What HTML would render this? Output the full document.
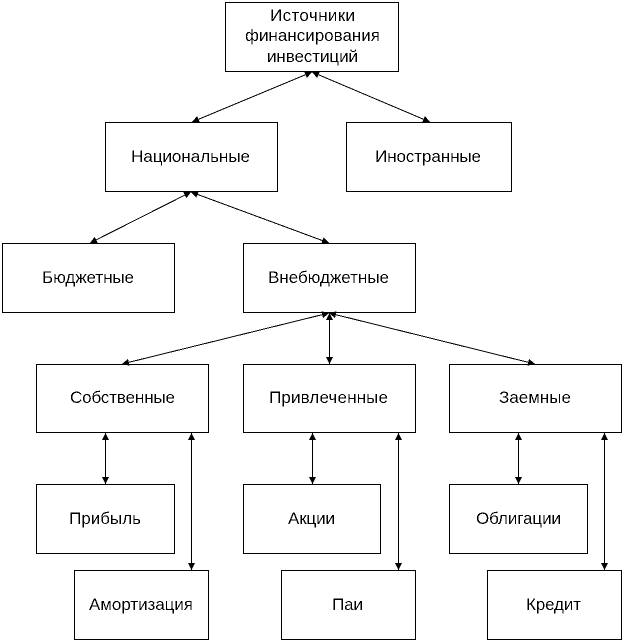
<!DOCTYPE html>
<html lang="ru"><head><meta charset="utf-8"><title>Источники финансирования инвестиций</title>
<style>
html,body{margin:0;padding:0;background:#fff}
svg{display:block}
text{font-family:"Liberation Sans",Arial,sans-serif;font-size:17px;fill:#000;text-anchor:start}
.b{fill:#fff;stroke:#000;stroke-width:1;shape-rendering:crispEdges}
.l{stroke:#000;stroke-width:1;fill:none;shape-rendering:crispEdges}
.v{stroke:#000;stroke-width:1;fill:none;shape-rendering:crispEdges}
</style></head><body>
<svg width="623" height="641" viewBox="0 0 623 641" xmlns="http://www.w3.org/2000/svg">
<defs>
<marker id="a" viewBox="0 0 7 7" refX="7" refY="3.5" markerWidth="7" markerHeight="7" markerUnits="userSpaceOnUse" orient="auto-start-reverse"><path d="M0 0L7 3.5L0 7Z" fill="#000" shape-rendering="crispEdges"/></marker>
<filter id="t" x="0" y="0" width="1" height="1" filterUnits="objectBoundingBox" color-interpolation-filters="sRGB">
<feComponentTransfer><feFuncA type="discrete" tableValues="0 0 0 1 1"/></feComponentTransfer>
</filter>
</defs>
<rect class="b" x="225.5" y="2.5" width="173" height="69"/>
<rect class="b" x="105.5" y="122.5" width="172" height="69"/>
<rect class="b" x="346.5" y="122.5" width="165" height="69"/>
<rect class="b" x="2.5" y="243.5" width="172" height="69"/>
<rect class="b" x="243.5" y="243.5" width="172" height="69"/>
<rect class="b" x="36.5" y="364.5" width="172" height="68"/>
<rect class="b" x="243.5" y="364.5" width="172" height="68"/>
<rect class="b" x="449.5" y="364.5" width="172" height="68"/>
<rect class="b" x="36.5" y="484.5" width="138" height="69"/>
<rect class="b" x="243.5" y="484.5" width="137" height="69"/>
<rect class="b" x="449.5" y="484.5" width="138" height="69"/>
<rect class="b" x="74.5" y="570.5" width="134" height="69"/>
<rect class="b" x="281.5" y="570.5" width="134" height="69"/>
<rect class="b" x="487.5" y="570.5" width="134" height="69"/>
<line class="l" x1="312" y1="72" x2="192" y2="122" marker-start="url(#a)" marker-end="url(#a)"/>
<line class="l" x1="312" y1="72" x2="430" y2="122" marker-start="url(#a)" marker-end="url(#a)"/>
<line class="l" x1="191" y1="192" x2="90" y2="243" marker-start="url(#a)" marker-end="url(#a)"/>
<line class="l" x1="191" y1="192" x2="329" y2="243" marker-start="url(#a)" marker-end="url(#a)"/>
<line class="l" x1="329" y1="313" x2="122" y2="364" marker-start="url(#a)" marker-end="url(#a)"/>
<line class="l" x1="329" y1="313" x2="535" y2="364" marker-start="url(#a)" marker-end="url(#a)"/>
<line class="v" x1="329.5" y1="313" x2="329.5" y2="364" marker-start="url(#a)" marker-end="url(#a)"/>
<line class="v" x1="105.5" y1="433" x2="105.5" y2="484" marker-start="url(#a)" marker-end="url(#a)"/>
<line class="v" x1="191.5" y1="433" x2="191.5" y2="570" marker-start="url(#a)" marker-end="url(#a)"/>
<line class="v" x1="312.5" y1="433" x2="312.5" y2="484" marker-start="url(#a)" marker-end="url(#a)"/>
<line class="v" x1="398.5" y1="433" x2="398.5" y2="570" marker-start="url(#a)" marker-end="url(#a)"/>
<line class="v" x1="518.5" y1="433" x2="518.5" y2="484" marker-start="url(#a)" marker-end="url(#a)"/>
<line class="v" x1="604.5" y1="433" x2="604.5" y2="570" marker-start="url(#a)" marker-end="url(#a)"/>
<g filter="url(#t)">
<text x="270" y="21" textLength="85" lengthAdjust="spacing">Источники</text>
<text x="245" y="41" textLength="135" lengthAdjust="spacing">финансирования</text>
<text x="267" y="62" textLength="91" lengthAdjust="spacing">инвестиций</text>
<text x="131" y="162" textLength="119" lengthAdjust="spacing">Национальные</text>
<text x="375" y="162" textLength="106" lengthAdjust="spacing">Иностранные</text>
<text x="42" y="283" textLength="92" lengthAdjust="spacing">Бюджетные</text>
<text x="268" y="283" textLength="121" lengthAdjust="spacing">Внебюджетные</text>
<text x="70" y="403" textLength="105" lengthAdjust="spacing">Собственные</text>
<text x="269" y="403" textLength="119" lengthAdjust="spacing">Привлеченные</text>
<text x="499" y="403" textLength="72" lengthAdjust="spacing">Заемные</text>
<text x="69" y="524" textLength="72" lengthAdjust="spacing">Прибыль</text>
<text x="288" y="524" textLength="47" lengthAdjust="spacing">Акции</text>
<text x="476" y="524" textLength="85" lengthAdjust="spacing">Облигации</text>
<text x="89" y="610" textLength="104" lengthAdjust="spacing">Амортизация</text>
<text x="332" y="610" textLength="31" lengthAdjust="spacing">Паи</text>
<text x="526" y="610" textLength="55" lengthAdjust="spacing">Кредит</text>
</g>
</svg>
</body></html>
